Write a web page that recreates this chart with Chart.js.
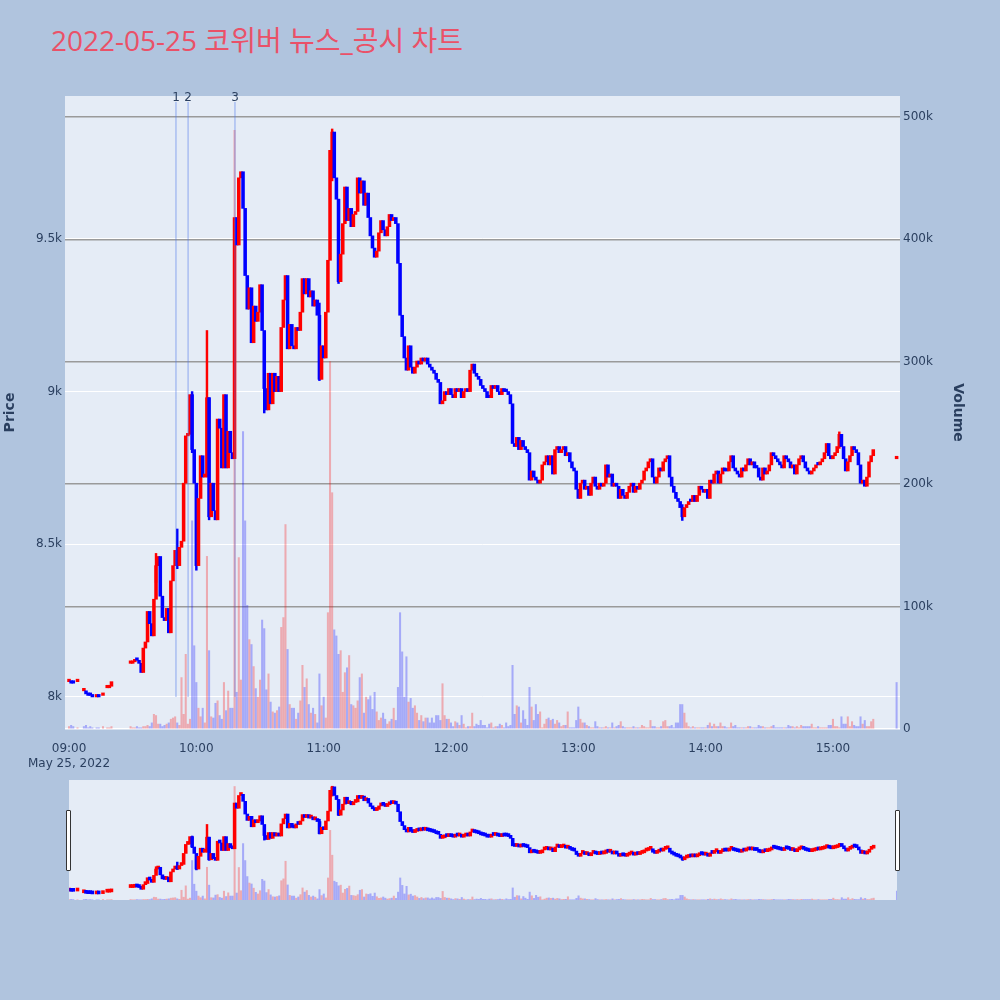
<!DOCTYPE html>
<html>
<head>
<meta charset="utf-8">
<script src="https://cdn.jsdelivr.net/npm/chart.js@4.4.0/dist/chart.umd.min.js"></script>
<style>
  body { margin: 0; width: 1000px; height: 1000px; background: #b0c4de; position: relative; overflow: hidden; }
  #title { position: absolute; left: 51px; top: 26px; font: 28px/28px "Open Sans", "Noto Sans CJK KR", sans-serif; color: #ea5168; white-space: nowrap; }
  #mainBox { position: absolute; left: 0; top: 0; width: 1000px; height: 800px; }
  #miniBox { position: absolute; left: 69px; top: 780px; width: 828px; height: 120px; }
  .handle { position: absolute; top: 810px; width: 3px; height: 59px; background: #fff; border: 1px solid #333; border-radius: 1px; }
</style>
</head>
<body>
<div id="title">2022-05-25 코위버 뉴스_공시 차트</div>
<div id="mainBox"><canvas id="mainChart" width="1000" height="800"></canvas></div>
<div id="miniBox"><canvas id="miniChart" width="828" height="120"></canvas></div>
<div class="handle" style="left:66px"></div>
<div class="handle" style="left:895px"></div>
<script>
// ---- data: one entry per minute from 09:00, null = no trade ----
const tradeDate = "May 25, 2022";
const sessionStart = "09:00";

const closePrice = [
  8050, 8045, 8045, null, 8050, null, null, 8020, 8010, 8005,
  8005, 8000, null, 8000, 8000, null, 8005, null, 8030, 8035,
  8050, null, null, null, null, null, null, null, null, 8110,
  8115, 8120, 8120, 8110, 8080, 8160, 8180, 8280, 8240, 8200,
  8320, 8430, 8460, 8330, 8260, 8250, 8290, 8210, 8380, 8430,
  8480, 8430, 8490, 8510, 8700, 8855, 8860, 8990, 8810, 8700,
  8430, 8650, 8790, 8720, 8730, 8980, 8590, 8700, 8610, 8580,
  8910, 8880, 8750, 8990, 8750, 8870, 8800, 8780, 9570, 9480,
  9700, 9720, 9600, 9380, 9270, 9340, 9160, 9280, 9230, 9260,
  9350, 9200, 9010, 8940, 9060, 8960, 9060, 9000, 9050, 9000,
  9210, 9300, 9380, 9140, 9220, 9150, 9140, 9210, 9200, 9260,
  9370, 9320, 9370, 9310, 9330, 9280, 9300, 9250, 9040, 9150,
  9110, 9260, 9430, 9790, 9850, 9700, 9630, 9360, 9450, 9550,
  9670, 9560, 9600, 9540, 9580, 9590, 9700, 9650, 9690, 9610,
  9650, 9570, 9510, 9470, 9440, 9460, 9520, 9560, 9530, 9510,
  9540, 9580, 9560, 9570, 9550, 9420, 9250, 9180, 9110, 9070,
  9150, 9080, 9060, 9080, 9100, 9090, 9110, 9100, 9110, 9090,
  9080, 9070, 9060, 9040, 9030, 8960, 8970, 9000, 8990, 9010,
  8990, 8980, 9010, 9000, 9010, 8980, 9000, 9010, 9000, 9070,
  9090, 9060, 9050, 9040, 9020, 9010, 9000, 8980, 8980, 9020,
  9010, 9020, 9000, 8990, 9010, 9000, 9000, 8990, 8960, 8830,
  8820, 8850, 8810, 8840, 8820, 8810, 8800, 8710, 8740, 8720,
  8710, 8700, 8710, 8760, 8770, 8790, 8760, 8790, 8730, 8810,
  8820, 8800, 8810, 8820, 8790, 8800, 8770, 8750, 8740, 8680,
  8650, 8700, 8710, 8680, 8690, 8660, 8700, 8720, 8690, 8680,
  8700, 8690, 8700, 8760, 8720, 8730, 8690, 8700, 8690, 8650,
  8680, 8660, 8650, 8670, 8690, 8700, 8670, 8690, 8680, 8700,
  8710, 8740, 8750, 8770, 8780, 8720, 8700, 8720, 8750, 8740,
  8770, 8780, 8790, 8720, 8690, 8670, 8650, 8640, 8620, 8590,
  8620, 8630, 8640, 8640, 8660, 8640, 8660, 8690, 8680, 8670,
  8680, 8650, 8710, 8700, 8730, 8740, 8700, 8730, 8750, 8740,
  8740, 8770, 8790, 8750, 8740, 8730, 8720, 8750, 8740, 8760,
  8780, 8760, 8770, 8750, 8750, 8720, 8710, 8750, 8730, 8740,
  8760, 8800, 8790, 8780, 8770, 8760, 8750, 8790, 8780, 8770,
  8750, 8760, 8730, 8760, 8780, 8790, 8770, 8750, 8740, 8730,
  8740, 8750, 8760, 8760, 8770, 8780, 8800, 8830, 8790, 8780,
  8790, 8800, 8820, 8860, 8820, 8780, 8740, 8770, 8790, 8820,
  8810, 8800, 8760, 8700, 8710, 8690, 8720, 8770, 8790, 8810,
  null, null, null, null, null, null, null, null, null, null,
  8780
];

// volume in thousands of shares
const volumeK = [
  2, 3, 2, null, 1, null, null, 2, 3, 1,
  2, 1, null, 1, 1, null, 2, null, 1, 1,
  2, null, null, null, null, null, null, null, null, 2,
  1, 1, 2, 1, 1, 2, 2, 3, 2, 5,
  12, 11, 4, 4, 2, 3, 4, 5, 8, 9,
  10, 5, 3, 42, 12, 61, 4, 8, 170, 68,
  38, 17, 10, 17, 5, 141, 64, 10, 9, 21,
  23, 11, 8, 38, 15, 31, 17, 17, 489, 30,
  140, 40, 243, 170, 101, 73, 69, 51, 33, 26,
  40, 89, 82, 32, 45, 22, 14, 13, 15, 18,
  83, 91, 167, 65, 20, 17, 17, 8, 13, 23,
  52, 34, 41, 20, 13, 17, 12, 5, 45, 19,
  26, 9, 95, 300, 193, 81, 76, 61, 64, 30,
  46, 50, 60, 20, 19, 17, 23, 42, 45, 13,
  26, 24, 27, 16, 30, 14, 7, 9, 13, 8,
  4, 6, 8, 17, 7, 34, 95, 63, 26, 59,
  22, 25, 17, 19, 13, 7, 11, 6, 9, 9,
  5, 9, 5, 11, 11, 7, 37, 11, 8, 8,
  5, 2, 6, 5, 3, 11, 4, 1, 2, 2,
  13, 2, 4, 3, 7, 3, 3, 1, 4, 5,
  1, 2, 2, 4, 3, 1, 5, 2, 3, 52,
  12, 19, 18, 5, 15, 8, 3, 34, 18, 7,
  20, 12, 14, 1, 4, 8, 9, 7, 8, 4,
  7, 5, 2, 3, 3, 14, 1, 1, 1, 7,
  18, 8, 5, 5, 3, 2, 1, 1, 6, 2,
  1, 1, 1, 2, 1, 1, 5, 1, 2, 3,
  6, 2, 1, 1, 1, 1, 2, 1, 1, 1,
  3, 2, 1, 1, 7, 2, 2, 1, 1, 2,
  6, 7, 2, 2, 3, 1, 5, 5, 20, 20,
  13, 5, 2, 1, 2, 1, 1, 1, 1, 1,
  1, 3, 5, 2, 4, 2, 2, 5, 2, 2,
  1, 1, 5, 2, 3, 1, 1, 1, 1, 1,
  2, 2, 1, 1, 1, 3, 2, 2, 1, 1,
  1, 2, 3, 1, 1, 1, 1, 1, 1, 3,
  2, 2, 1, 2, 1, 3, 2, 2, 2, 2,
  4, 1, 1, 2, 1, 1, 1, 1, 3, 3,
  8, 2, 2, 1, 10, 4, 4, 10, 2, 6,
  3, 2, 2, 10, 4, 7, 2, 2, 6, 8,
  null, null, null, null, null, null, null, null, null, null,
  38
];

// long shadows that stick out of the bodies
const wickMinutes = [41, 51, 58, 60, 65, 66, 92, 118, 124, 127, 289, 363];
const wickHighs   = [8470, 8550, 9000, 8590, 9200, 8980, 9120, 9290, 9860, 9630, 8630, 8868];
const wickLows    = [8375, 8420, 8800, 8415, 8720, 8580, 8930, 9036, 9690, 9354, 8578, 8814];

// news / disclosure markers
const newsMinutes = [50.4, 56.1, 78.2];
const newsLabels = ["1", "2", "3"];

const timeTicks = ["09:00", "10:00", "11:00", "12:00", "13:00", "14:00", "15:00"];
const priceTicks = [8000, 8500, 9000, 9500];
const priceTickLabels = ["8k", "8.5k", "9k", "9.5k"];
const volumeTicks = [0, 100, 200, 300, 400, 500];
const volumeTickLabels = ["0", "100k", "200k", "300k", "400k", "500k"];

// ---- build series ----
const UP = "#ff0000", DOWN = "#0000ff";
const VOL_UP = "rgba(255,0,0,0.28)", VOL_DOWN = "rgba(0,0,255,0.28)";
const FONT = '"DejaVu Sans", Verdana, sans-serif';
const TEXT = "#2a3f5f";

function toMinutes(t) {
  const [h, m] = t.split(":").map(Number);
  return h * 60 + m;
}
const start = toMinutes(sessionStart);
const tickMinutes = timeTicks.map(t => toMinutes(t) - start);

const bodies = [], bodyColors = [], vols = [], volColors = [];
const colorAt = {};
let prevClose = null, lastClose = null;
closePrice.forEach((c, m) => {
  if (c === null) { prevClose = null; return; }
  // open = previous minute's close, single dot after a gap
  const o = prevClose === null ? c : prevClose;
  const up = prevClose === null ? true : c > o;
  bodies.push({ x: m, y: [o, c] });
  bodyColors.push(up ? UP : DOWN);
  colorAt[m] = up ? UP : DOWN;
  if (volumeK[m] != null) {
    vols.push({ x: m, y: volumeK[m] });
    volColors.push(lastClose === null || c > lastClose ? VOL_UP : VOL_DOWN);
  }
  prevClose = c;
  lastClose = c;
});
const wicks = wickMinutes.map((m, i) => ({ x: m, y: [wickLows[i], wickHighs[i]] }));
const wickColors = wickMinutes.map(m => colorAt[m]);

const PRICE_MIN = 7895, PRICE_MAX = 9968, VOL_MAX = 517;

// ---- plugins ----
const plotBg = {
  id: "plotBg",
  beforeDraw(chart) {
    const { ctx, chartArea: a } = chart;
    ctx.save();
    ctx.fillStyle = "#e5ecf6";
    ctx.fillRect(a.left, a.top, a.right - a.left, a.bottom - a.top);
    ctx.restore();
  }
};

const newsMarks = {
  id: "newsMarks",
  afterDatasetsDraw(chart) {
    const { ctx, chartArea: a } = chart;
    const xs = chart.scales.x, ys = chart.scales.y;
    ctx.save();
    newsMinutes.forEach((m, i) => {
      const px = xs.getPixelForValue(m);
      ctx.strokeStyle = "rgba(80,120,235,0.6)";
      ctx.lineWidth = 1;
      ctx.beginPath();
      ctx.moveTo(px, a.top + 6);
      ctx.lineTo(px, ys.getPixelForValue(8000));
      ctx.stroke();
      ctx.fillStyle = TEXT;
      ctx.font = "12px " + FONT;
      ctx.textAlign = "center";
      ctx.textBaseline = "alphabetic";
      ctx.fillText(newsLabels[i], px, a.top + 5);
    });
    ctx.restore();
  }
};

function datasets(bodyWidth, minLen) {
  return [
    { data: vols, yAxisID: "yVol", backgroundColor: volColors, barThickness: 1.4,
      grouped: false, order: 3, borderWidth: 0 },
    { data: wicks, yAxisID: "y", backgroundColor: wickColors, barThickness: 1.8,
      grouped: false, order: 2, borderWidth: 0 },
    { data: bodies, yAxisID: "y", backgroundColor: bodyColors, barThickness: bodyWidth,
      minBarLength: minLen, grouped: false, order: 1, borderWidth: 0 }
  ];
}

Chart.defaults.font.family = FONT;
Chart.defaults.color = TEXT;

new Chart(document.getElementById("mainChart"), {
  type: "bar",
  data: { datasets: datasets(2.9, 2.5) },
  options: {
    responsive: false,
    animation: false,
    devicePixelRatio: 1,
    layout: { padding: { top: 96, right: 32, left: 0, bottom: 0 } },
    plugins: { legend: { display: false }, tooltip: { enabled: false } },
    scales: {
      x: {
        type: "linear", min: -1.9, max: 391.6, offset: false,
        grid: { display: false }, border: { display: false },
        afterBuildTicks: s => { s.ticks = tickMinutes.map(v => ({ value: v })); },
        ticks: {
          autoSkip: false, maxRotation: 0, padding: 5,
          font: { size: 12 }, color: TEXT,
          callback: (v, i) => i === 0 ? [timeTicks[0], tradeDate] : timeTicks[i]
        },
        afterFit: s => { s.height = 71; }
      },
      y: {
        position: "left", min: PRICE_MIN, max: PRICE_MAX,
        border: { display: false },
        grid: { color: "#ffffff", lineWidth: 1, drawTicks: false },
        afterBuildTicks: s => { s.ticks = priceTicks.map(v => ({ value: v })); },
        ticks: { padding: 3, font: { size: 12 }, color: TEXT,
          callback: (v, i) => priceTickLabels[i] },
        title: { display: true, text: "Price", color: TEXT, font: { size: 14, weight: "bold" }, padding: 2 },
        afterFit: s => { s.width = 65; }
      },
      yVol: {
        position: "right", min: 0, max: VOL_MAX,
        border: { display: false },
        grid: { drawTicks: false, lineWidth: 1.5,
          color: c => c.tick && c.tick.value === 0 ? "#ffffff" : "#9a9a9a" },
        afterBuildTicks: s => { s.ticks = volumeTicks.map(v => ({ value: v })); },
        ticks: { padding: 3, font: { size: 12 }, color: TEXT,
          callback: (v, i) => volumeTickLabels[i] },
        title: { display: true, text: "Volume", color: TEXT, font: { size: 14, weight: "bold" }, padding: 2 },
        afterFit: s => { s.width = 68; }
      }
    }
  },
  plugins: [plotBg, newsMarks]
});

// range slider preview
new Chart(document.getElementById("miniChart"), {
  type: "bar",
  data: { datasets: datasets(2.9, 3) },
  options: {
    responsive: false,
    animation: false,
    devicePixelRatio: 1,
    layout: { padding: 0 },
    plugins: { legend: { display: false }, tooltip: { enabled: false } },
    scales: {
      x: { type: "linear", min: 0, max: 390, offset: false, display: false },
      y: { min: PRICE_MIN, max: PRICE_MAX, display: false },
      yVol: { min: 0, max: VOL_MAX, display: false }
    }
  },
  plugins: [plotBg]
});
</script>
</body>
</html>
